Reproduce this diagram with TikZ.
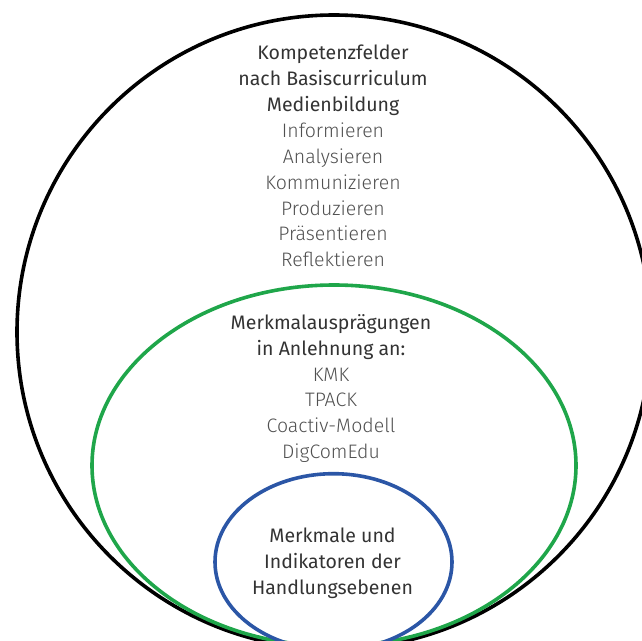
\documentclass[tikz,border=0pt]{standalone}
\usepackage{fontspec}
\setmainfont{Fira Sans}
\newfontfamily\lightfont{Fira Sans Light}
\definecolor{darktext}{HTML}{333333}
\definecolor{lighttext}{HTML}{505050}
\definecolor{greenring}{HTML}{1FA64A}
\definecolor{bluering}{HTML}{2B56A6}
\begin{document}
\begin{tikzpicture}[x=1pt,y=-1pt,
  ring/.style={line width=3.6pt},
  blocktext/.style={align=center,text=darktext,font=\fontsize{19.5}{25.9}\selectfont}]
\useasboundingbox (0,0) rectangle (642,640);
\begin{scope}
\clip (0,0) rectangle (642,640);
\draw[ring,black] (334,332) circle[radius=317];
\draw[ring,greenring] (334,465.5) ellipse[x radius=242,y radius=180.5];
\draw[ring,bluering] (333.5,562) ellipse[x radius=118.5,y radius=88.3];
\end{scope}
\node[blocktext] (outer) at (333,156) {Kompetenzfelder\\nach Basiscurriculum\\Medienbildung\\
  {\lightfont\color{lighttext}Informieren}\\
  {\lightfont\color{lighttext}Analysieren}\\
  {\lightfont\color{lighttext}Kommunizieren}\\
  {\lightfont\color{lighttext}Produzieren}\\
  {\lightfont\color{lighttext}Präsentieren}\\
  {\lightfont\color{lighttext}Reflektieren}};
\node[blocktext] (middle) at (331,388.5) {Merkmalausprägungen\\in Anlehnung an:\\
  {\lightfont\color{lighttext}KMK}\\
  {\lightfont\color{lighttext}TPACK}\\
  {\lightfont\color{lighttext}Coactiv-Modell}\\
  {\lightfont\color{lighttext}DigComEdu}};
\node[blocktext] (inner) at (332.5,563) {Merkmale und\\Indikatoren der\\Handlungsebenen};
\end{tikzpicture}
\end{document}
